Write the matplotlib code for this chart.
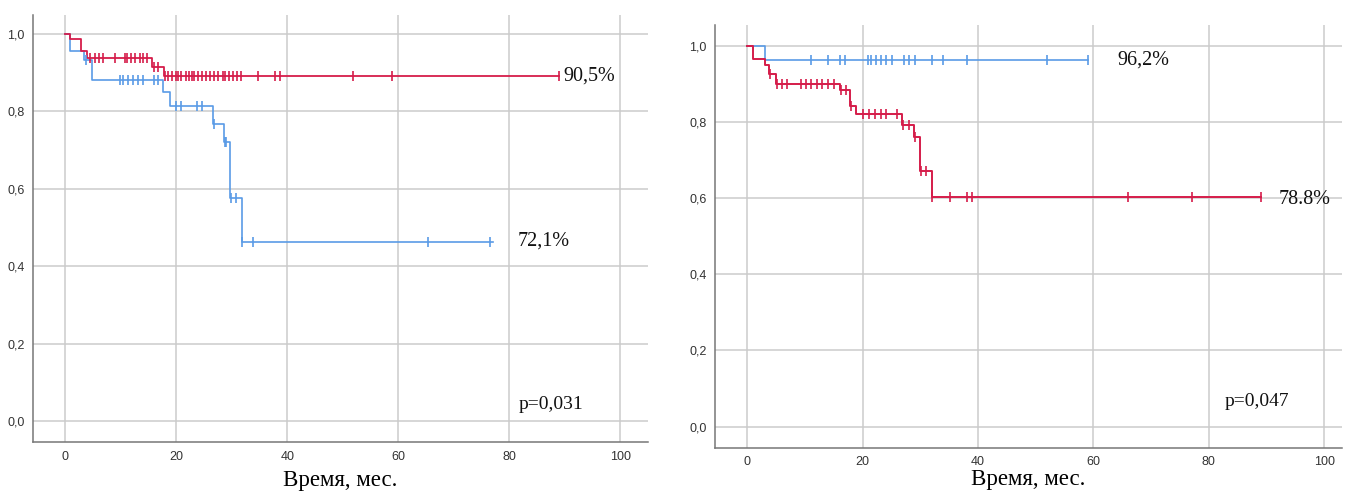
import numpy as np
import matplotlib
matplotlib.use("Agg")
import matplotlib.pyplot as plt

RED = "#d51c4a"
BLUE = "#5a9be6"

# left plot: survival steps (time, survival), censored times, last follow-up
left_red_t = [0, 0.9, 2.9, 4.0, 15.7, 17.8]
left_red_s = [1.0, 0.987, 0.955, 0.938, 0.916, 0.891]
left_red_cens = [4.4, 5.3, 6.1, 6.8, 8.9, 10.8, 11.2, 11.9, 12.6, 13.4, 14.1, 14.8,
                 16.0, 16.8, 18.0, 18.6, 19.2, 19.9, 20.4, 20.9, 21.8, 22.3, 22.8,
                 23.3, 24.0, 24.7, 25.4, 26.1, 26.9, 27.6, 28.4, 28.8, 29.5, 30.3,
                 31.0, 31.7, 34.8, 37.8, 38.7, 51.8, 58.8, 89.0]
left_red_end = 89.0

left_blue_t = [0, 0.9, 3.4, 4.9, 17.7, 18.9, 26.7, 28.6, 29.7, 31.8]
left_blue_s = [1.0, 0.955, 0.933, 0.882, 0.849, 0.813, 0.768, 0.722, 0.577, 0.462]
left_blue_cens = [3.8, 9.9, 10.5, 11.4, 12.3, 13.2, 14.0, 16.0, 16.8, 19.9, 20.9,
                  23.7, 24.6, 26.8, 28.8, 29.0, 29.9, 30.8, 31.9, 33.8, 65.4, 76.6]
left_blue_end = 77.0

# right plot
right_blue_t = [0, 3.1]
right_blue_s = [1.0, 0.962]
right_blue_cens = [11.1, 14.0, 16.1, 17.0, 21.0, 21.5, 22.3, 23.2, 24.1, 25.0, 27.1,
                   28.0, 29.0, 32.0, 34.0, 38.0, 52.0, 59.0]
right_blue_end = 59.0

right_red_t = [0, 1.0, 3.1, 3.8, 5.0, 16.0, 17.8, 18.8, 26.9, 28.9, 30.0, 32.0]
right_red_s = [1.0, 0.964, 0.950, 0.925, 0.900, 0.884, 0.841, 0.820, 0.791, 0.760,
               0.671, 0.603]
right_red_cens = [4.0, 5.1, 6.1, 6.9, 9.3, 10.2, 11.1, 12.1, 13.0, 14.0, 15.0, 16.2,
                  17.1, 17.9, 20.0, 21.1, 22.1, 23.1, 24.0, 26.0, 27.0, 28.0, 29.1,
                  30.1, 31.0, 32.1, 35.1, 38.1, 39.0, 66.0, 77.1, 89.1]
right_red_end = 89.1

left_labels = [("90,5%", 89.7, 0.891), ("72,1%", 81.6, 0.466)]
right_labels = [("96,2%", 64.1, 0.962), ("78.8%", 92.1, 0.595)]
left_p = ("p=0,031", 81.7, 0.043)
right_p = ("p=0,047", 82.8, 0.066)

xticks = [0, 20, 40, 60, 80, 100]
yticks = [0.0, 0.2, 0.4, 0.6, 0.8, 1.0]
ytick_labels = ["0,0", "0,2", "0,4", "0,6", "0,8", "1,0"]
xlabel = "Время, мес."


def km_curve(ax, t, s, cens, end, color, lw):
    t = np.asarray(t)
    s = np.asarray(s)
    ax.step(np.append(t, end), np.append(s, s[-1]), where="post",
            color=color, lw=lw, zorder=3)
    idx = np.searchsorted(t, cens, side="right") - 1
    ax.plot(cens, s[idx], ls="none", marker="|", ms=7, mew=1.2,
            color=color, zorder=4)


def style(ax, xlim, ylim, pad):
    ax.set_xlim(*xlim)
    ax.set_ylim(*ylim)
    ax.set_xticks(xticks)
    ax.set_yticks(yticks)
    ax.set_yticklabels(ytick_labels)
    ax.grid(True, color="#cbcbcb", lw=1.1)
    ax.set_axisbelow(True)
    for side in ("top", "right"):
        ax.spines[side].set_visible(False)
    for side in ("left", "bottom"):
        ax.spines[side].set_color("#777777")
        ax.spines[side].set_linewidth(1.1)
    ax.tick_params(length=0, labelsize=9, labelcolor="#333333", pad=6)
    for lab in ax.get_xticklabels() + ax.get_yticklabels():
        lab.set_fontfamily("Liberation Sans")
    ax.set_xlabel(xlabel, fontfamily="Liberation Serif", fontsize=16.5, labelpad=pad)


fig = plt.figure(figsize=(13.45, 4.93), dpi=100)
ax1 = fig.add_axes([0.0245, 0.1028, 0.4573, 0.8668])
ax2 = fig.add_axes([0.5316, 0.0919, 0.4662, 0.8574])

km_curve(ax1, left_blue_t, left_blue_s, left_blue_cens, left_blue_end, BLUE, 1.2)
km_curve(ax1, left_red_t, left_red_s, left_red_cens, left_red_end, RED, 1.3)
style(ax1, (-5.8, 105.0), (-0.054, 1.049), 5)

km_curve(ax2, right_blue_t, right_blue_s, right_blue_cens, right_blue_end, BLUE, 1.2)
km_curve(ax2, right_red_t, right_red_s, right_red_cens, right_red_end, RED, 1.4)
style(ax2, (-5.6, 103.1), (-0.055, 1.054), 1)

for ax, labels, p in ((ax1, left_labels, left_p), (ax2, right_labels, right_p)):
    for txt, x, y in labels:
        ax.text(x, y, txt, ha="left", va="center", fontsize=14.5,
                fontfamily="Liberation Serif", color="#111111", zorder=5)
    ax.text(p[1], p[2], p[0], ha="left", va="center", fontsize=14,
            fontfamily="Liberation Serif", color="#111111", zorder=5)

fig.savefig("out.png", dpi=100)
